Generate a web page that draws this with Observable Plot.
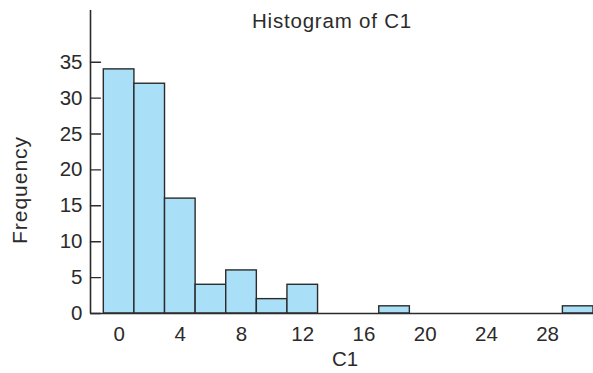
<!DOCTYPE html>
<html>
<head>
<meta charset="utf-8">
<script src="https://cdn.jsdelivr.net/npm/d3@7"></script>
<script src="https://cdn.jsdelivr.net/npm/@observablehq/plot@0.6"></script>
<style>
  html, body { margin: 0; padding: 0; background: #fff; }
  #chart svg { display: block; }
</style>
</head>
<body>
<div id="chart"></div>
<script>
// Histogram bins (width 2, centred on even numbers)
const binStarts = [-1, 1, 3, 5, 7, 9, 11, 13, 15, 17, 19, 21, 23, 25, 27, 29];
const binWidth = 2;
const counts    = [34, 32, 16, 4, 6, 2, 4, 0, 0, 1, 0, 0, 0, 0, 0, 1];
const xTicks = [0, 4, 8, 12, 16, 20, 24, 28];
const yTicks = [0, 5, 10, 15, 20, 25, 30, 35];
const xDomain = [-1.87, 31];
const yDomain = [0, 42.2];
const title = "Histogram of C1";
const xLabel = "C1";
const yLabel = "Frequency";

const bins = binStarts.map((s, i) => ({x1: s, x2: s + binWidth, count: counts[i]}))
  .filter(d => d.count > 0);

const ink = "#2b2b2b";
const fs = 20.5;
const tickShape = {draw(ctx, l) { ctx.moveTo(0, 0); ctx.lineTo(0, -l); }};

const chart = Plot.plot({
  width: 593,
  height: 373,
  marginLeft: 90,
  marginRight: 0,
  marginTop: 10,
  marginBottom: 60,
  style: {fontFamily: "'Liberation Sans', Arial, sans-serif", fontSize: fs + "px", color: ink, background: "#fff"},
  x: {domain: xDomain},
  y: {domain: yDomain},
  marks: [
    Plot.rectY(bins, {x1: "x1", x2: "x2", y: "count", fill: "#aadff8", stroke: ink, strokeWidth: 1.4}),
    Plot.ruleY([0], {stroke: ink, strokeWidth: 1.6}),
    Plot.ruleX([xDomain[0]], {stroke: ink, strokeWidth: 1.6}),
    Plot.vector(yTicks, {y: d => d, frameAnchor: "left", length: 10, rotate: 90, anchor: "start", shape: tickShape, stroke: ink, strokeWidth: 1.4}),
    Plot.axisY({ticks: yTicks, tickSize: 0, tickPadding: 8, label: null, fontSize: fs, fill: ink}),
    Plot.axisX({ticks: xTicks, tickSize: 0, tickPadding: 13, label: null, fontSize: fs, fill: ink}),
    Plot.text([title], {text: d => d, frameAnchor: "top", textAnchor: "middle", lineAnchor: "middle", dx: -10, dy: 11, fontSize: fs, fill: ink}),
    Plot.text([xLabel], {text: d => d, frameAnchor: "bottom", textAnchor: "middle", lineAnchor: "middle", dx: 3, dy: 46, fontSize: fs, fill: ink}),
    Plot.text([yLabel], {text: d => d, frameAnchor: "left", textAnchor: "middle", lineAnchor: "middle", rotate: -90, dx: -70, dy: 28, fontSize: 21, fill: ink})
  ]
});
// slightly wider letter spacing for the title and the y label, as in the reference
d3.select(chart).selectAll("text").each(function() {
  const t = this.textContent;
  if (t === title) this.setAttribute("letter-spacing", "0.8px");
  if (t === yLabel) this.setAttribute("letter-spacing", "1px");
});
document.getElementById("chart").append(chart);
</script>
</body>
</html>
